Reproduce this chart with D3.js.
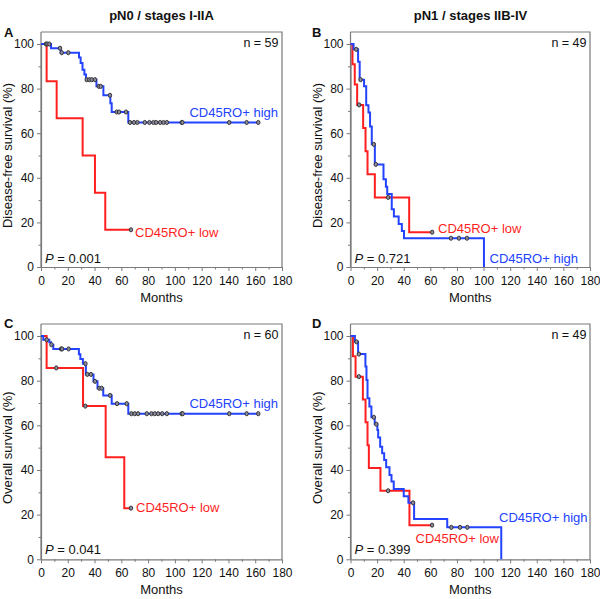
<!DOCTYPE html>
<html><head><meta charset="utf-8">
<script src="https://cdn.jsdelivr.net/npm/d3@7"></script>
<style>
body{margin:0;background:#fff}
svg{display:block}
text{font-family:"Liberation Sans",Arial,Helvetica,sans-serif}
</style>
</head><body>
<svg id="chart" width="600" height="599"></svg>
<script>
// ---------- data ----------
const xTicks = [0, 20, 40, 60, 80, 100, 120, 140, 160, 180];
const xMinorTicks = [10, 30, 50, 70, 90, 110, 130, 150, 170];
const yTicks = [0, 20, 40, 60, 80, 100];
const yMinorTicks = [10, 30, 50, 70, 90];

const columnTitles = ["pN0 / stages I-IIA", "pN1 / stages IIB-IV"];
const panelLetters = ["A", "B", "C", "D"];
const yLabels = ["Disease-free survival (%)", "Disease-free survival (%)", "Overall survival (%)", "Overall survival (%)"];
const nLabels = ["n = 59", "n = 49", "n = 60", "n = 49"];
const pValues = ["0.001", "0.721", "0.041", "0.399"];
const groupNames = ["CD45RO+ high", "CD45RO+ low"];

// Panel A (DFS, pN0)
const A_high_t = [0, 7.5, 14.7, 28.4, 29.6, 31, 32.4, 33.6, 41.4, 46.6, 51.8, 52.8, 65.2];
const A_high_s = [100, 98.1, 96.1, 94, 91.5, 88.5, 86.3, 84, 81, 77, 73.4, 69.5, 64.8];
const A_high_c = [3.7, 4.7, 6.2, 14.2, 15.5, 20.4, 34.1, 36.1, 37.9, 40.3, 43.1, 44.6, 51.5, 56.5, 58.3, 63.5, 66.5, 69.5, 72, 77.5, 81, 84, 86, 89, 91.5, 94, 105.1, 105.6, 140.6, 153.6, 162.3];
const A_low_t = [0, 4.2, 11.7, 31.1, 40.3, 48];
const A_low_s = [100, 83.3, 66.7, 50, 33.3, 16.7];
const A_low_c = [67.2];

// Panel B (DFS, pN1)
const B_high_t = [0, 2.3, 5.7, 6.9, 10.2, 11.8, 13.5, 14.7, 16, 18.3, 24.8, 26.6, 27.6, 31, 32.6, 36.2, 38.6, 40.2, 100.3];
const B_high_s = [100, 97.6, 92, 84, 81, 72.5, 69.3, 63, 55, 46, 39.3, 36, 32.7, 25.9, 22.6, 19.3, 16.1, 12.9, 0];
const B_high_c = [4.3, 7.6, 17.5, 19, 75.5, 81.5, 87.5];
const B_low_t = [0, 1.5, 3.2, 5, 9.5, 11.3, 12.8, 18.3, 44.1];
const B_low_s = [100, 90.9, 81.8, 72.7, 62.3, 51.9, 41.6, 31.2, 15.6];
const B_low_c = [6.5, 28.3, 61.4];

// Panel C (OS, pN0)
const C_high_t = [0, 1.7, 6.2, 7.5, 9.2, 28.3, 29.4, 31.3, 33.5, 39.2, 42.2, 46.5, 52.8, 65.2];
const C_high_s = [100, 98.3, 97.2, 96.1, 94.2, 91.8, 89.7, 87.6, 82.8, 79.7, 76.6, 73.4, 69.7, 65.2];
const C_high_c = [4.2, 7.8, 15, 15.8, 20.6, 33.2, 34.6, 37.3, 40.3, 43.5, 45.3, 51.6, 56.8, 64, 67.5, 70, 72.5, 79, 82.5, 85, 87.5, 90.5, 94, 105.1, 105.8, 140.6, 153.6, 162.3];
const C_low_t = [0, 4.2, 31.4, 48.3, 62.2];
const C_low_s = [100, 85.7, 68.6, 45.7, 22.9];
const C_low_c = [11.4, 33.1, 67.2];

// Panel D (OS, pN1)
const D_high_t = [0, 3.3, 5.7, 11.2, 12, 12.8, 14.2, 15.7, 18.2, 20.2, 20.8, 22.3, 23.8, 25.3, 26.8, 29.3, 30.8, 32.5, 40, 43.5, 47.8, 72.7, 113.3];
const D_high_s = [100, 97.4, 91.9, 86.3, 80.3, 72.1, 68.4, 63.6, 60.5, 57.9, 54.6, 50.4, 47.5, 44.5, 41.2, 37.8, 34.8, 31.5, 28.2, 25.3, 18, 14.3, 0];
const D_high_c = [4.5, 6.3, 17.5, 19.4, 47, 75.8, 82.3, 87.8];
const D_low_t = [0, 1.8, 3.8, 9.3, 11.3, 12.8, 13.8, 22.5, 44.3];
const D_low_s = [100, 90.9, 81.8, 71.6, 61.4, 51.1, 40.9, 30.7, 15.3];
const D_low_c = [6.3, 28.3, 61.3];

// ---------- layout / style ----------
const colHigh = "#2343ff", colLow = "#ff1f1f";
const axisColor = "#7a7a7a", textColor = "#111";
const cols = [{x0: 41, x1: 282, titleX: 161.5, letterX: 4, ylabX: 12},
              {x0: 350.5, x1: 590, titleX: 470.5, letterX: 312, ylabX: 321.5}];
const rows = [{yTop: 32, y100: 44, y0: 267, letterY: 37},
              {yTop: 324, y100: 336, y0: 559.3, letterY: 328}];
// label placements (pixel offsets from plot origin x0 / y0)
const labelPos = [
  {high: {dx: 237, dy: -150.5, anchor: "end"}, low: {dx: 94, dy: -30, anchor: "start"}, pdy: -4, ndy: 12},
  {high: {dx: 139, dy: -4, anchor: "start"}, low: {dx: 87.5, dy: -34, anchor: "start"}, pdy: -4, ndy: 12},
  {high: {dx: 237, dy: -151, anchor: "end"}, low: {dx: 95, dy: -47.5, anchor: "start"}, pdy: -5.5, ndy: 12},
  {high: {dx: 148.5, dy: -37.5, anchor: "start"}, low: {dx: 65, dy: -16.5, anchor: "start"}, pdy: -5.5, ndy: 12}
];

const panelData = [
  {high: [A_high_t, A_high_s, A_high_c], low: [A_low_t, A_low_s, A_low_c]},
  {high: [B_high_t, B_high_s, B_high_c], low: [B_low_t, B_low_s, B_low_c]},
  {high: [C_high_t, C_high_s, C_high_c], low: [C_low_t, C_low_s, C_low_c]},
  {high: [D_high_t, D_high_s, D_high_c], low: [D_low_t, D_low_s, D_low_c]}
];

const svg = d3.select("#chart");

// column titles
columnTitles.forEach((t, i) => {
  svg.append("text").attr("x", cols[i].titleX).attr("y", 20)
    .attr("text-anchor", "middle").attr("font-size", 13).attr("font-weight", "bold")
    .attr("fill", textColor).text(t);
});

function survAt(times, surv, t) {
  let s = surv[0];
  for (let i = 0; i < times.length; i++) if (times[i] <= t) s = surv[i];
  return s;
}

panelData.forEach((pd, i) => {
  const C = cols[i % 2], R = rows[Math.floor(i / 2)], LP = labelPos[i];
  const x = d3.scaleLinear().domain([0, 180]).range([C.x0, C.x1]);
  const y = d3.scaleLinear().domain([0, 100]).range([R.y0, R.y100]);
  const g = svg.append("g");

  // frame top/right
  g.append("path").attr("d", `M${C.x0},${R.yTop}H${C.x1}V${R.y0}`)
    .attr("fill", "none").attr("stroke", axisColor).attr("stroke-width", 1.2);

  // x axis
  const gx = g.append("g").attr("transform", `translate(0,${R.y0})`)
    .call(d3.axisBottom(x).tickValues(xTicks).tickSize(4).tickSizeOuter(0).tickPadding(5.5));
  g.append("g").attr("transform", `translate(0,${R.y0})`)
    .call(d3.axisBottom(x).tickValues(xMinorTicks).tickSize(2.5).tickFormat(""))
    .call(a => a.select(".domain").remove());
  // y axis
  const gy = g.append("g").attr("transform", `translate(${C.x0},0)`)
    .call(d3.axisLeft(y).tickValues(yTicks).tickSize(4).tickSizeOuter(0).tickPadding(3));
  g.append("g").attr("transform", `translate(${C.x0},0)`)
    .call(d3.axisLeft(y).tickValues(yMinorTicks).tickSize(2.5).tickFormat(""))
    .call(a => a.select(".domain").remove());
  // extend y domain line to frame top
  g.append("line").attr("x1", C.x0).attr("x2", C.x0).attr("y1", R.yTop).attr("y2", R.y0)
    .attr("stroke", axisColor).attr("stroke-width", 1.2);
  g.selectAll(".domain").attr("stroke", axisColor).attr("stroke-width", 1.2);
  g.selectAll(".tick line").attr("stroke", axisColor).attr("stroke-width", 1);
  g.selectAll(".tick text").attr("font-size", 12).attr("fill", textColor)
    .attr("font-family", '"Liberation Sans",Arial,sans-serif');

  // x label
  g.append("text").attr("x", (C.x0 + C.x1) / 2).attr("y", R.y0 + 34.5)
    .attr("text-anchor", "middle").attr("font-size", 13).attr("fill", textColor).text("Months");
  // y label
  g.append("text").attr("transform", `translate(${C.ylabX},${(R.y0 + R.y100) / 2}) rotate(-90)`)
    .attr("text-anchor", "middle").attr("font-size", 13).attr("fill", textColor).text(yLabels[i]);
  // panel letter
  g.append("text").attr("x", C.letterX).attr("y", R.letterY)
    .attr("font-size", 13).attr("font-weight", "bold").attr("fill", textColor).text(panelLetters[i]);
  // n label
  g.append("text").attr("x", C.x1 - 3.5).attr("y", R.yTop + LP.ndy + 3)
    .attr("text-anchor", "end").attr("font-size", 12.5).attr("fill", textColor).text(nLabels[i]);
  // P value
  const pt = g.append("text").attr("x", C.x0 + 4).attr("y", R.y0 + LP.pdy)
    .attr("font-size", 13).attr("fill", textColor);
  pt.append("tspan").attr("font-style", "italic").text("P");
  pt.append("tspan").text(" = " + pValues[i]);

  // curves
  const line = d3.line().x(d => x(d[0])).y(d => y(d[1])).curve(d3.curveStepAfter);
  const groups = [["low", colLow], ["high", colHigh]];
  groups.forEach(([key, col]) => {
    const [t, s, c] = pd[key];
    const end = Math.max(t[t.length - 1], c.length ? c[c.length - 1] : 0);
    const pts = t.map((tt, k) => [tt, s[k]]);
    if (end > t[t.length - 1]) pts.push([end, s[s.length - 1]]);
    g.append("path").attr("d", line(pts)).attr("fill", "none")
      .attr("stroke", col).attr("stroke-width", 2);
  });
  groups.forEach(([key, col]) => {
    const [t, s, c] = pd[key];
    g.selectAll(null).data(c).enter().append("ellipse")
      .attr("cx", d => x(d)).attr("cy", d => y(survAt(t, s, d)))
      .attr("rx", 1.7).attr("ry", 2.1)
      .attr("fill", "#8c8c9c").attr("stroke", "#2a2a2a").attr("stroke-width", 0.9);
  });

  // group labels
  [["high", colHigh, 0], ["low", colLow, 1]].forEach(([key, col, gi]) => {
    const p = LP[key];
    g.append("text").attr("x", C.x0 + p.dx).attr("y", R.y0 + p.dy)
      .attr("text-anchor", p.anchor).attr("font-size", 13).attr("fill", col).text(groupNames[gi]);
  });
});
</script>
</body></html>
